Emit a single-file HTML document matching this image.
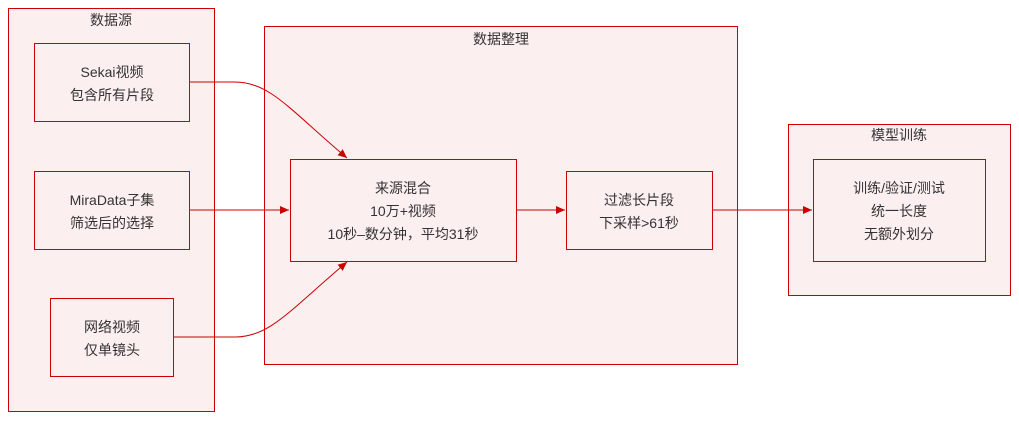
<!DOCTYPE html>
<html><head><meta charset="utf-8"><style>
body{margin:0;width:1019px;height:420px;background:#fff;font-family:"Liberation Sans","Noto Sans CJK SC",sans-serif;}
svg text{font-family:"Liberation Sans","Noto Sans CJK SC",sans-serif;font-size:14px;fill:#333;text-anchor:middle;}
</style></head><body>
<svg width="1019" height="420" xmlns="http://www.w3.org/2000/svg">
<defs><marker id="a" markerWidth="10" markerHeight="10" refX="9" refY="5" orient="auto" markerUnits="userSpaceOnUse"><path d="M0,1 L9,5 L0,9 z" fill="#cc0000"/></marker></defs>
<g stroke="#cc0000" stroke-width="1" fill="#fcefef">
<rect x="8.5" y="8.5" width="206" height="403"/>
<rect x="264.5" y="26.5" width="473" height="338"/>
<rect x="788.5" y="124.5" width="222" height="171"/>
<rect x="34.5" y="43.5" width="155" height="78"/>
<rect x="34.5" y="171.5" width="155" height="78"/>
<rect x="50.5" y="298.5" width="123" height="78"/>
<rect x="290.5" y="159.5" width="226" height="102"/>
<rect x="566.5" y="171.5" width="146" height="78"/>
<rect x="813.5" y="159.5" width="172" height="102"/>
</g>
<g stroke="#cc0000" stroke-width="1" fill="none" marker-end="url(#a)">
<path d="M189,82 L235,82 C270,82 290,110 347,158"/>
<path d="M189,210 L289,210"/>
<path d="M173,337 L235,337 C270,337 290,310 347,262"/>
<path d="M516,210 L565,210"/>
<path d="M712,210 L812,210"/>
</g>
<text x="111" y="25">数据源</text>
<text x="501" y="44">数据整理</text>
<text x="899" y="140">模型训练</text>
<text x="112" y="77">Sekai视频</text>
<text x="112" y="100">包含所有片段</text>
<text x="112" y="205">MiraData子集</text>
<text x="112" y="228">筛选后的选择</text>
<text x="112" y="332">网络视频</text>
<text x="112" y="355">仅单镜头</text>
<text x="403" y="193">来源混合</text>
<text x="403" y="216">10万+视频</text>
<text x="403" y="239">10秒–数分钟，平均31秒</text>
<text x="639" y="205">过滤长片段</text>
<text x="639" y="228">下采样&gt;61秒</text>
<text x="899" y="193">训练/验证/测试</text>
<text x="899" y="216">统一长度</text>
<text x="899" y="239">无额外划分</text>
</svg>
</body></html>
